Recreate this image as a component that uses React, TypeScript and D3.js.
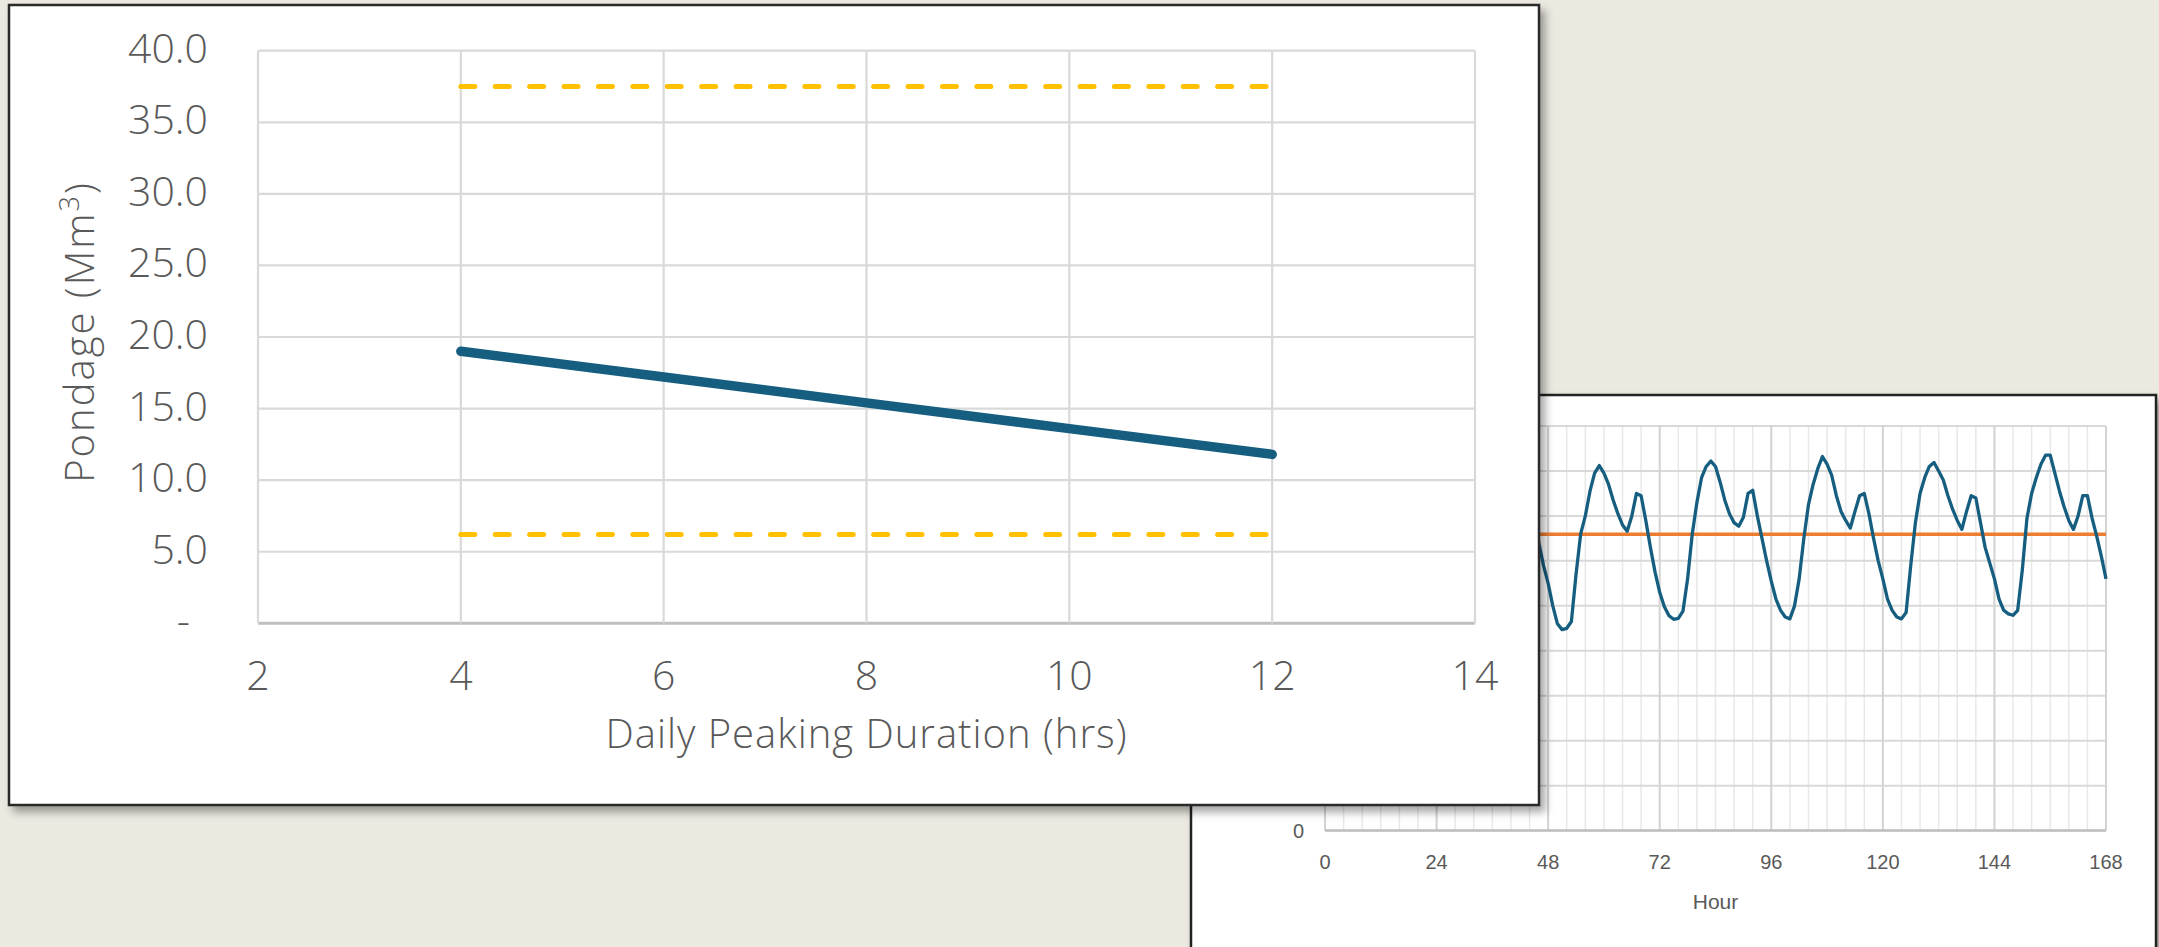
import React from "react";
import * as d3 from "d3";

// ---- Main chart data ----
const durationHrs = [4, 6, 8, 10, 12];
const pondage = [19.0, 17.2, 15.4, 13.6, 11.8];
const upperLimit = 37.5;
const lowerLimit = 6.2;
const mainXTicks = [2, 4, 6, 8, 10, 12, 14];
const mainYTicks = [0, 5, 10, 15, 20, 25, 30, 35, 40];
const mainYLabels = ["-", "5.0", "10.0", "15.0", "20.0", "25.0", "30.0", "35.0", "40.0"];

// ---- Background chart data (hourly, 0..168) ----
const hourlyValues = [
  56, 52, 49, 47.5, 47.2, 48.5, 58, 68, 74, 78, 81, 82, 80.5, 77, 73.5, 70.5, 68.5, 67.5, 70, 75, 75, 70, 64.5, 59.5,
  55.5, 51, 48.5, 47.2, 47, 49, 57, 67, 73.5, 78, 80.5, 81.5, 80, 77, 73, 70, 68, 67, 70.5, 74.5, 74, 69,
  64, 59, 55, 50, 46, 44.7, 45, 46.5, 57, 66, 70, 75.5, 79.5, 81.2, 79.5, 77, 73.5, 70.5, 68, 66.6, 70, 75, 74.5, 69,
  63, 57.5, 53, 49.8, 47.8, 47, 47.2, 48.8, 56, 66, 73, 78.5, 81, 82.2, 81, 77.5, 73.5, 70.5, 68.5, 67.7, 69.7, 75, 75.7, 70,
  65, 60, 55.5, 51.5, 49, 47.5, 47.1, 50, 56, 65, 72.5, 77, 80.5, 83.2, 81.5, 79, 74.5, 71, 69, 67.3, 71, 74.5, 75, 70.5,
  65, 60, 56, 51.5, 49, 47.5, 47.1, 48.5, 59, 68.5, 75, 78.5, 81, 81.9, 80, 78, 74.5, 71.5, 69, 67, 71, 74.5, 74, 68.5,
  63, 59.5, 56, 51.5, 49, 48.2, 47.9, 49, 58, 69.5, 75, 78.5, 81.5, 83.5, 83.5, 79.5, 75.5, 72, 69, 67, 70, 74.5, 74.5, 69.5,
  65.5, 61, 56,
];
const averageLevel = 65.9;
const hourTicks = [0, 24, 48, 72, 96, 120, 144, 168];
const hourMinor = d3.range(0, 169, 4);
const valueGrid = [0, 10, 20, 30, 40, 50, 60, 70, 80, 90];
const valueLabels = [0]; // only the zero label is visible; the rest sit behind the front panel

const W = 2159;
const H = 947;
const BG = "#ECE9E1";
const GRID = "#D9D9D9";
const TXT = "#595959";
const BLUE = "#165E80";
const MAIN_FONT = "'Open Sans', sans-serif";
const SMALL_FONT = "'Liberation Sans', Arial, sans-serif";

export default function App() {
  // background chart scales
  const hx = d3.scaleLinear().domain([0, 168]).range([1325, 2106]);
  const hy = d3.scaleLinear().domain([0, 90]).range([830.6, 426]);
  const hourLine = d3
    .line<number>()
    .x((_, i) => hx(i))
    .y((v) => hy(v));

  // main chart scales
  const x = d3.scaleLinear().domain([2, 14]).range([258, 1475]);
  const y = d3.scaleLinear().domain([0, 40]).range([623.3, 50.7]);
  const mainLine = d3
    .line<number>()
    .x((_, i) => x(durationHrs[i]))
    .y((v) => y(v));

  return (
    <svg
      width={W}
      height={H}
      style={{ position: "absolute", left: 0, top: 0, display: "block" }}
    >
      <defs>
        <filter id="shadow" x="-5%" y="-5%" width="110%" height="115%">
          <feDropShadow dx="5" dy="6" stdDeviation="4" floodColor="#000" floodOpacity="0.35" />
        </filter>
      </defs>
      <rect x={0} y={0} width={W} height={H} fill={BG} />

      {/* ---- background panel ---- */}
      <g>
        <rect x={1191} y={395} width={965} height={620} fill="#fff" stroke="#222" strokeWidth={2.5} filter="url(#shadow)" />
        {hourMinor.map((h) => (
          <line key={"m" + h} x1={hx(h)} x2={hx(h)} y1={hy(90)} y2={hy(0)} stroke="#E8E8E8" strokeWidth={1.5} />
        ))}
        {valueGrid.map((v) => (
          <line key={"hg" + v} x1={hx(0)} x2={hx(168)} y1={hy(v)} y2={hy(v)} stroke={GRID} strokeWidth={2} />
        ))}
        {hourTicks.map((h) => (
          <line key={"M" + h} x1={hx(h)} x2={hx(h)} y1={hy(90)} y2={hy(0)} stroke="#D3D3D3" strokeWidth={2} />
        ))}
        <line x1={hx(0)} x2={hx(168)} y1={hy(0)} y2={hy(0)} stroke="#BFBFBF" strokeWidth={2.5} />
        {valueLabels.map((v) => (
          <text key={"hl" + v} x={1304} y={hy(v) + 7} textAnchor="end" fontFamily={SMALL_FONT} fontSize={20} fill={TXT}>
            {v}
          </text>
        ))}
        {hourTicks.map((h) => (
          <text key={"ht" + h} x={hx(h)} y={869} textAnchor="middle" fontFamily={SMALL_FONT} fontSize={20} fill={TXT}>
            {h}
          </text>
        ))}
        <text x={(hx(0) + hx(168)) / 2} y={909} textAnchor="middle" fontFamily={SMALL_FONT} fontSize={21} fill={TXT}>
          Hour
        </text>
        <line x1={hx(0)} x2={hx(168)} y1={hy(averageLevel)} y2={hy(averageLevel)} stroke="#ED7D31" strokeWidth={3.5} />
        <path d={hourLine(hourlyValues) || ""} fill="none" stroke={BLUE} strokeWidth={3.3} strokeLinejoin="round" />
      </g>

      {/* ---- main panel ---- */}
      <g>
        <rect x={9} y={5} width={1530} height={800} fill="#fff" stroke="#2A2A2A" strokeWidth={2.5} filter="url(#shadow)" />
        {mainYTicks.map((v) => (
          <line key={"yg" + v} x1={x(2)} x2={x(14)} y1={y(v)} y2={y(v)} stroke={v === 0 ? "#BFBFBF" : GRID} strokeWidth={v === 0 ? 3 : 2.2} />
        ))}
        {mainXTicks.map((v) => (
          <line key={"xg" + v} x1={x(v)} x2={x(v)} y1={y(40)} y2={y(0)} stroke={GRID} strokeWidth={2.2} />
        ))}
        {mainYTicks.map((v, i) => (
          <text
            key={"yl" + v}
            x={v === 0 ? 190 : 208}
            y={y(v) + 12}
            textAnchor="end"
            fontFamily={MAIN_FONT}
            fontWeight={300}
            fontSize={41}
            fill={TXT}
          >
            {mainYLabels[i]}
          </text>
        ))}
        {mainXTicks.map((v) => (
          <text key={"xl" + v} x={x(v)} y={690} textAnchor="middle" fontFamily={MAIN_FONT} fontWeight={300} fontSize={41} fill={TXT}>
            {v}
          </text>
        ))}
        <text
          x={(x(2) + x(14)) / 2}
          y={748}
          textAnchor="middle"
          fontFamily={MAIN_FONT}
          fontWeight={300}
          fontSize={40}
          letterSpacing={1}
          fill={TXT}
        >
          Daily Peaking Duration (hrs)
        </text>
        <text
          transform={`translate(94, ${(y(0) + y(40)) / 2 - 5}) rotate(-90)`}
          textAnchor="middle"
          fontFamily={MAIN_FONT}
          fontWeight={300}
          fontSize={40}
          letterSpacing={2}
          fill={TXT}
        >
          Pondage (Mm
          <tspan fontSize={27} dy={-15}>3</tspan>
          <tspan dy={15}>)</tspan>
        </text>
        <line
          x1={x(durationHrs[0])}
          x2={x(durationHrs[durationHrs.length - 1])}
          y1={y(upperLimit)}
          y2={y(upperLimit)}
          stroke="#FFC000"
          strokeWidth={5}
          strokeDasharray="14 20.4"
          strokeLinecap="round"
        />
        <line
          x1={x(durationHrs[0])}
          x2={x(durationHrs[durationHrs.length - 1])}
          y1={y(lowerLimit)}
          y2={y(lowerLimit)}
          stroke="#FFC000"
          strokeWidth={5}
          strokeDasharray="14 20.4"
          strokeLinecap="round"
        />
        <path d={mainLine(pondage) || ""} fill="none" stroke={BLUE} strokeWidth={9.5} strokeLinecap="round" strokeLinejoin="round" />
      </g>
    </svg>
  );
}
